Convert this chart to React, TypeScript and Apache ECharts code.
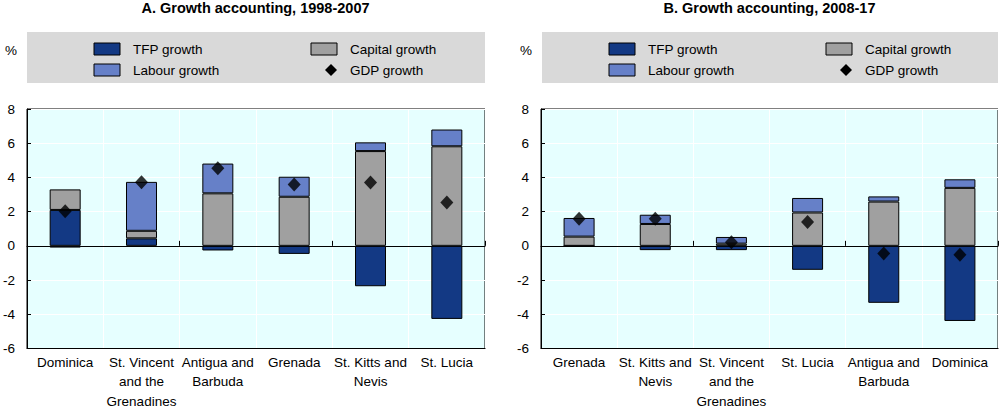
import React, { useEffect, useRef } from "react";
import * as echarts from "echarts";

const FONT = "'Liberation Sans', Arial, sans-serif";

const catsA = ["Dominica", "St. Vincent\nand the\nGrenadines", "Antigua and\nBarbuda", "Grenada", "St. Kitts and\nNevis", "St. Lucia"];
const tfpA = [2.1, 0.44, -0.27, -0.47, -2.36, -4.27];
const capA = [1.2, 0.44, 3.07, 2.87, 5.54, 5.82];
const labA = [-0.1, 2.86, 1.74, 1.17, 0.51, 0.98];
const gdpA = [2.03, 3.72, 4.54, 3.58, 3.7, 2.53];

const catsB = ["Grenada", "St. Kitts and\nNevis", "St. Vincent\nand the\nGrenadines", "St. Lucia", "Antigua and\nBarbuda", "Dominica"];
const tfpB = [0, -0.25, -0.25, -1.4, -3.33, -4.39];
const capB = [0.54, 1.28, 0.13, 1.95, 2.59, 3.39];
const labB = [1.09, 0.54, 0.39, 0.85, 0.3, 0.5];
const gdpB = [1.59, 1.59, 0.21, 1.4, -0.44, -0.52];

const titles = ["A. Growth accounting, 1998-2007", "B. Growth accounting, 2008-17"];
const seriesNames = ["TFP growth", "Capital growth", "Labour growth", "GDP growth"];
const colors = { tfp: "#133984", cap: "#a0a0a0", lab: "#6680c8", gdp: "#000000" };

export default function App() {
  const ref = useRef<HTMLDivElement>(null);
  useEffect(() => {
    document.body.style.margin = "0";
    const chart = echarts.init(ref.current!, null, { renderer: "svg" });

    const panels = [
      { left: 26, width: 459, cats: catsA, tfp: tfpA, cap: capA, lab: labA, gdp: gdpA },
      { left: 541, width: 457, cats: catsB, tfp: tfpB, cap: capB, lab: labB, gdp: gdpB },
    ];

    const grid: any[] = [];
    const xAxis: any[] = [];
    const yAxis: any[] = [];
    const series: any[] = [];
    const graphic: any[] = [];

    panels.forEach((p, i) => {
      grid.push({
        left: p.left, width: p.width, top: 109, height: 243,
        show: true, backgroundColor: "#e6ffff", borderColor: "#000", borderWidth: 1,
      });
      xAxis.push({
        type: "category", gridIndex: i, data: p.cats, position: "bottom",
        axisLine: { show: true, onZero: false, lineStyle: { color: "#000", width: 1 } },
        axisTick: { show: false },
        splitLine: { show: true, lineStyle: { color: "#ffffff", width: 1 } },
        axisLabel: { color: "#000", fontSize: 13.5, fontFamily: FONT, margin: 4, lineHeight: 19.5, interval: 0 },
      });
      xAxis.push({
        type: "category", gridIndex: i, data: p.cats, position: "bottom",
        axisLine: { show: true, onZero: true, lineStyle: { color: "#000", width: 1 } },
        axisTick: { show: true, inside: true, length: 5, lineStyle: { color: "#000" } },
        axisLabel: { show: false },
        splitLine: { show: false },
      });
      yAxis.push({
        type: "value", gridIndex: i, min: -6, max: 8, interval: 2,
        axisLine: { show: true, lineStyle: { color: "#000" } },
        axisTick: { show: true, inside: true, length: 4, lineStyle: { color: "#000" } },
        splitLine: { show: true, lineStyle: { color: "#ffffff", width: 1 } },
        axisLabel: { color: "#000", fontSize: 13.5, fontFamily: FONT, margin: 12 },
      });
      const barBase = {
        type: "bar", xAxisIndex: i * 2, yAxisIndex: i, stack: "s" + i, barWidth: 31,
      };
      series.push({ ...barBase, name: seriesNames[0], data: p.tfp, itemStyle: { color: colors.tfp, borderColor: "#000", borderWidth: 1 } });
      series.push({ ...barBase, name: seriesNames[1], data: p.cap, itemStyle: { color: colors.cap, borderColor: "#000", borderWidth: 1 } });
      series.push({ ...barBase, name: seriesNames[2], data: p.lab, itemStyle: { color: colors.lab, borderColor: "#000", borderWidth: 1 } });
      series.push({
        type: "scatter", name: seriesNames[3], xAxisIndex: i * 2, yAxisIndex: i, data: p.gdp,
        symbol: "diamond", symbolSize: [13, 14], itemStyle: { color: colors.gdp }, z: 5,
      });

      // title
      graphic.push({
        type: "text", x: p.left + p.width / 2, y: 8,
        style: { text: titles[i], fontSize: 14.5, fontWeight: "bold", fontFamily: FONT, fill: "#000", textAlign: "center", textVerticalAlign: "middle" },
      });
      // % label
      graphic.push({
        type: "text", x: p.left - 21, y: 50,
        style: { text: "%", fontSize: 13.5, fontFamily: FONT, fill: "#000", textVerticalAlign: "middle" },
      });
      // legend box
      const bx = p.left + 1;
      graphic.push({ type: "rect", shape: { x: bx, y: 32, width: p.width - 1, height: 51 }, style: { fill: "#d9d9d9" }, z: 0 });
      const c1 = bx + 67;
      const c2 = bx + 284;
      const items = [
        { name: seriesNames[0], color: colors.tfp, x: c1, y: 49, kind: "rect" },
        { name: seriesNames[2], color: colors.lab, x: c1, y: 70, kind: "rect" },
        { name: seriesNames[1], color: colors.cap, x: c2, y: 49, kind: "rect" },
        { name: seriesNames[3], color: colors.gdp, x: c2, y: 70, kind: "diamond" },
      ];
      items.forEach((it) => {
        if (it.kind === "rect") {
          graphic.push({ type: "rect", shape: { x: it.x, y: it.y - 6, width: 26, height: 12 }, style: { fill: it.color, stroke: "#000", lineWidth: 1 }, z: 1 });
        } else {
          const cx = it.x + 20, cy = it.y;
          graphic.push({ type: "polygon", shape: { points: [[cx, cy - 6], [cx + 6, cy], [cx, cy + 6], [cx - 6, cy]] }, style: { fill: it.color }, z: 1 });
        }
        graphic.push({
          type: "text", x: it.x + 39, y: it.y,
          style: { text: it.name, fontSize: 13.5, fontFamily: FONT, fill: "#000", textVerticalAlign: "middle" }, z: 1,
        });
      });
    });

    chart.setOption({
      animation: false,
      backgroundColor: "#ffffff",
      textStyle: { fontFamily: FONT },
      grid, xAxis, yAxis, series, graphic,
    });
    return () => chart.dispose();
  }, []);
  return <div ref={ref} style={{ width: 1000, height: 411 }} />;
}
